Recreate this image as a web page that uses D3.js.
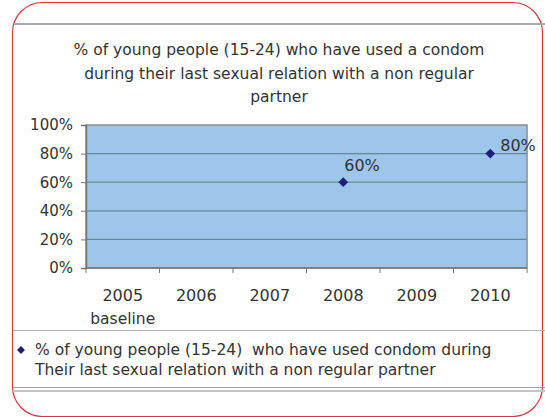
<!DOCTYPE html>
<html>
<head>
<meta charset="utf-8">
<script src="https://cdn.jsdelivr.net/npm/d3@7"></script>
<style>
  html, body { margin: 0; padding: 0; background: #fff; }
  svg { display: block; font-family: "DejaVu Sans", "Liberation Sans", Arial, sans-serif; }
  text { white-space: pre; }
</style>
</head>
<body>
<svg id="chart" width="545" height="417"></svg>
<script>
// Survey years and their values (share of young people using a condom)
const years = ["2005", "2006", "2007", "2008", "2009", "2010"];
const yearNotes = ["baseline", "", "", "", "", ""];
const condomUse = [null, null, null, 0.60, null, 0.80];
const yTicks = [0, 0.2, 0.4, 0.6, 0.8, 1.0];
const titleLines = [
  "% of young people (15-24) who have used a condom",
  "during their last sexual relation with a non regular",
  "partner"
];
const legendLines = [
  "% of young people (15-24)  who have used condom during",
  "Their last sexual relation with a non regular partner"
];

const svg = d3.select("#chart");

// Outer frame
svg.append("rect")
  .attr("x", 12.5).attr("y", 2.5).attr("width", 530).attr("height", 414)
  .attr("rx", 30).attr("ry", 30)
  .attr("fill", "#fff").attr("stroke", "#d9343f").attr("stroke-width", 1.2);

// Chart panel edges
svg.append("line").attr("x1", 14).attr("x2", 545).attr("y1", 24).attr("y2", 24)
  .attr("stroke", "#a9a9a9").attr("stroke-width", 2);
svg.append("line").attr("x1", 13).attr("x2", 545).attr("y1", 330.5).attr("y2", 330.5)
  .attr("stroke", "#b5b5b5").attr("stroke-width", 1);
svg.append("line").attr("x1", 13).attr("x2", 545).attr("y1", 387.5).attr("y2", 387.5)
  .attr("stroke", "#a0a0a0").attr("stroke-width", 1);
svg.append("line").attr("x1", 13).attr("x2", 545).attr("y1", 391).attr("y2", 391)
  .attr("stroke", "#c4c4c4").attr("stroke-width", 2);

// Title
svg.append("g").selectAll("text").data(titleLines).join("text")
  .attr("x", 279).attr("y", (d, i) => 55 + i * 23.5)
  .attr("text-anchor", "middle")
  .attr("font-size", 15.5).attr("fill", "#333")
  .text(d => d);

// Plot area
const plot = { left: 86, right: 527, top: 125, bottom: 268 };
const x = d3.scaleBand().domain(years).range([plot.left, plot.right]);
const y = d3.scaleLinear().domain([0, 1]).range([plot.bottom, plot.top]);

svg.append("rect")
  .attr("x", plot.left).attr("y", plot.top)
  .attr("width", plot.right - plot.left).attr("height", plot.bottom - plot.top)
  .attr("fill", "#9ec6ea").attr("stroke", "#8c8c8c").attr("stroke-width", 1.5);

// Gridlines
svg.append("g").selectAll("line").data(yTicks.filter(t => t > 0 && t < 1)).join("line")
  .attr("x1", plot.left).attr("x2", plot.right)
  .attr("y1", d => y(d)).attr("y2", d => y(d))
  .attr("stroke", "#5f8c8f").attr("stroke-width", 1.3);

// Y axis
const yAxis = svg.append("g")
  .attr("transform", `translate(${plot.left},0)`)
  .call(d3.axisLeft(y).tickValues(yTicks).tickFormat(d3.format(".0%")).tickSize(5).tickPadding(8));
yAxis.select(".domain").attr("stroke", "#777").attr("stroke-width", 1.5);
yAxis.selectAll(".tick line").attr("stroke", "#777");
yAxis.selectAll(".tick text").attr("font-size", 15).attr("fill", "#333")
  .attr("font-family", "DejaVu Sans, sans-serif");

// X axis: ticks sit on category boundaries
const xAxis = svg.append("g").attr("transform", `translate(0,${plot.bottom})`);
xAxis.append("line").attr("x1", plot.left).attr("x2", plot.right)
  .attr("stroke", "#777").attr("stroke-width", 1.5);
const bounds = years.map(d => x(d)).concat([x(years[years.length - 1]) + x.bandwidth()]);
xAxis.selectAll("line.tick").data(bounds).join("line").attr("class", "tick")
  .attr("x1", d => d).attr("x2", d => d).attr("y1", 0).attr("y2", 5)
  .attr("stroke", "#777");
xAxis.selectAll("text.year").data(years).join("text").attr("class", "year")
  .attr("x", d => x(d) + x.bandwidth() / 2).attr("y", 33)
  .attr("text-anchor", "middle").attr("font-size", 16).attr("fill", "#333")
  .text(d => d);
xAxis.selectAll("text.note").data(years.map((d, i) => ({ year: d, note: yearNotes[i] })).filter(d => d.note)).join("text")
  .attr("class", "note")
  .attr("x", d => x(d.year) + x.bandwidth() / 2).attr("y", 56)
  .attr("text-anchor", "middle").attr("font-size", 15.5).attr("fill", "#333")
  .text(d => d.note);

// Points and value labels
const points = years.map((d, i) => ({ year: d, value: condomUse[i] })).filter(d => d.value != null);
const diamond = d3.symbol().type(d3.symbolDiamond2).size(60);
svg.append("g").selectAll("path").data(points).join("path")
  .attr("transform", d => `translate(${x(d.year) + x.bandwidth() / 2},${y(d.value)})`)
  .attr("d", diamond).attr("fill", "#1f1f78");
// The last label is nudged right so it clears the point near the top edge
svg.append("g").selectAll("text").data(points).join("text")
  .attr("x", (d, i) => x(d.year) + x.bandwidth() / 2 + (i === points.length - 1 ? 10 : 1))
  .attr("y", (d, i) => y(d.value) + (i === points.length - 1 ? -3 : -11))
  .attr("font-size", 16).attr("fill", "#333")
  .text(d => d3.format(".0%")(d.value));

// Legend
svg.append("path")
  .attr("transform", "translate(21,350)")
  .attr("d", d3.symbol().type(d3.symbolDiamond2).size(40)).attr("fill", "#1f1f78");
svg.append("g").selectAll("text").data(legendLines).join("text")
  .attr("x", 35).attr("y", (d, i) => 355 + i * 20)
  .attr("font-size", 15.5).attr("fill", "#333")
  .text(d => d);
</script>
</body>
</html>
